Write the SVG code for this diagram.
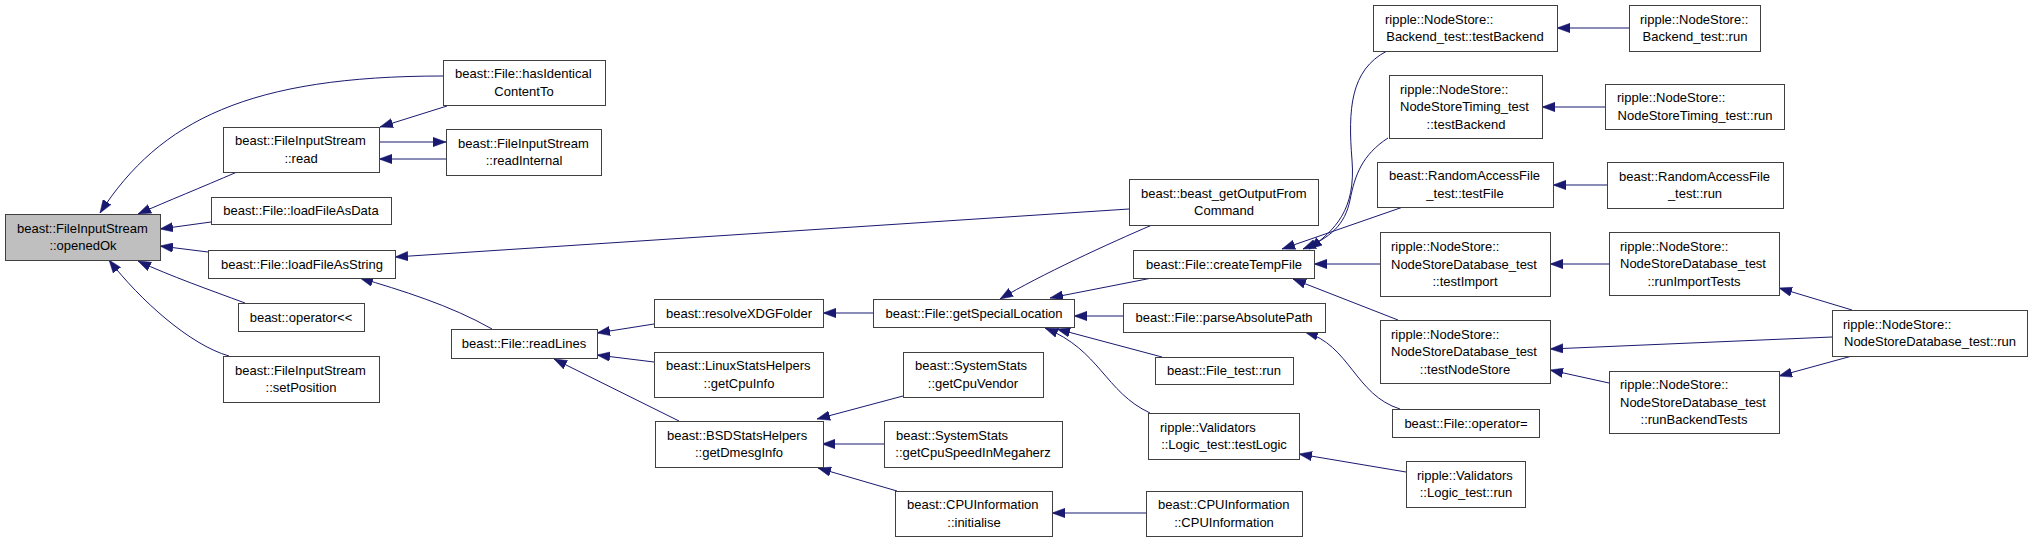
<svg xmlns="http://www.w3.org/2000/svg" width="2032" height="541" viewBox="0 0 2032 541">
<style>
.n rect{fill:#ffffff;stroke:#404040;stroke-width:1}
.n.g rect{fill:#bfbfbf}
.n text{font-family:"Liberation Sans",Arial,Helvetica,sans-serif;font-size:13px;fill:#000000}
.c{text-anchor:middle}
.l{text-anchor:start}
#edges path{fill:none;stroke:#191970;stroke-width:1;marker-end:url(#ah)}
</style>
<defs>
<marker id="ah" markerUnits="userSpaceOnUse" markerWidth="13" markerHeight="10" viewBox="0 0 13 9.4" refX="13" refY="4.7" orient="auto">
<path d="M0,0 L13,4.7 L0,9.4 Z" fill="#191970" stroke="#191970" stroke-width="0.5"/>
</marker>
</defs>
<rect x="0" y="0" width="2032" height="541" fill="#ffffff"/>
<g id="edges">
<path d="M443,76 C250,76 160,120 100,213"/>
<path d="M447,106 L380,127"/>
<path d="M379,142 L446,142"/>
<path d="M446,159 L379,159"/>
<path d="M237,172 C200,188 170,200 138,214"/>
<path d="M211,222 L160,229"/>
<path d="M208,252 L160,246"/>
<path d="M245,303 C210,290 170,276 138,261"/>
<path d="M229,356 C190,345 140,300 109,260"/>
<path d="M1129,209 L395,257"/>
<path d="M492,329 C450,305 400,290 360,278"/>
<path d="M654,324 L597,333"/>
<path d="M654,362 L597,355"/>
<path d="M679,421 L554,359"/>
<path d="M873,313 L823,313"/>
<path d="M903,396 L817,419"/>
<path d="M884,444 L822,444"/>
<path d="M897,491 L818,468"/>
<path d="M1152,225 C1110,243 1040,275 1000,299"/>
<path d="M1152,278 L1050,298"/>
<path d="M1123,316 L1074,316"/>
<path d="M1162,357 L1057,329"/>
<path d="M1150,413 C1105,392 1100,350 1045,328"/>
<path d="M1146,513 L1052,513"/>
<path d="M1406,472 L1299,454"/>
<path d="M1400,409 C1355,395 1350,345 1305,332"/>
<path d="M1387,51 C1350,70 1348,110 1352,160 C1356,210 1335,230 1309,249"/>
<path d="M1388,138 C1362,155 1355,175 1350,200 C1345,225 1330,238 1303,249"/>
<path d="M1403,207 L1282,249"/>
<path d="M1380,264 L1314,264"/>
<path d="M1398,320 L1293,279"/>
<path d="M1629,28 L1557,28"/>
<path d="M1605,107 L1542,107"/>
<path d="M1607,185 L1553,185"/>
<path d="M1609,264 L1550,264"/>
<path d="M1852,310 L1779,288"/>
<path d="M1832,337 L1550,349"/>
<path d="M1852,356 L1779,376"/>
<path d="M1609,383 L1550,370"/>
</g>
<g id="n0" class="n g"><rect x="5.5" y="214.5" width="155" height="46"/><text class="l" x="17" y="232.75">beast::FileInputStream</text><text class="c" x="83" y="250.25">::openedOk</text></g>
<g id="n1" class="n"><rect x="223.5" y="127.5" width="156" height="45"/><text class="l" x="235" y="145.25">beast::FileInputStream</text><text class="c" x="301" y="162.75">::read</text></g>
<g id="n2" class="n"><rect x="211.5" y="197.5" width="180" height="27"/><text class="c" x="301" y="215">beast::File::loadFileAsData</text></g>
<g id="n3" class="n"><rect x="208.5" y="250.5" width="187" height="28"/><text class="c" x="302" y="268.5">beast::File::loadFileAsString</text></g>
<g id="n4" class="n"><rect x="238.5" y="303.5" width="126" height="28"/><text class="c" x="301" y="321.5">beast::operator&lt;&lt;</text></g>
<g id="n5" class="n"><rect x="223.5" y="356.5" width="156" height="46"/><text class="l" x="235" y="374.75">beast::FileInputStream</text><text class="c" x="301" y="392.25">::setPosition</text></g>
<g id="n6" class="n"><rect x="443.5" y="60.5" width="162" height="45"/><text class="l" x="455" y="78.25">beast::File::hasIdentical</text><text class="c" x="524" y="95.75">ContentTo</text></g>
<g id="n7" class="n"><rect x="446.5" y="129.5" width="155" height="46"/><text class="l" x="458" y="147.75">beast::FileInputStream</text><text class="c" x="524" y="165.25">::readInternal</text></g>
<g id="n8" class="n"><rect x="451.5" y="329.5" width="146" height="29"/><text class="c" x="524" y="348">beast::File::readLines</text></g>
<g id="n9" class="n"><rect x="654.5" y="299.5" width="169" height="28"/><text class="c" x="739" y="317.5">beast::resolveXDGFolder</text></g>
<g id="n10" class="n"><rect x="654.5" y="352.5" width="169" height="45"/><text class="l" x="666" y="370.25">beast::LinuxStatsHelpers</text><text class="c" x="739" y="387.75">::getCpuInfo</text></g>
<g id="n11" class="n"><rect x="655.5" y="421.5" width="168" height="46"/><text class="l" x="667" y="439.75">beast::BSDStatsHelpers</text><text class="c" x="739" y="457.25">::getDmesgInfo</text></g>
<g id="n12" class="n"><rect x="873.5" y="299.5" width="201" height="28"/><text class="c" x="974" y="317.5">beast::File::getSpecialLocation</text></g>
<g id="n13" class="n"><rect x="903.5" y="352.5" width="140" height="45"/><text class="l" x="915" y="370.25">beast::SystemStats</text><text class="c" x="973" y="387.75">::getCpuVendor</text></g>
<g id="n14" class="n"><rect x="884.5" y="421.5" width="178" height="46"/><text class="l" x="896" y="439.75">beast::SystemStats</text><text class="c" x="973" y="457.25">::getCpuSpeedInMegaherz</text></g>
<g id="n15" class="n"><rect x="895.5" y="491.5" width="157" height="45"/><text class="l" x="907" y="509.25">beast::CPUInformation</text><text class="c" x="974" y="526.75">::initialise</text></g>
<g id="n16" class="n"><rect x="1129.5" y="179.5" width="189" height="46"/><text class="l" x="1141" y="197.75">beast::beast_getOutputFrom</text><text class="c" x="1224" y="215.25">Command</text></g>
<g id="n17" class="n"><rect x="1133.5" y="250.5" width="181" height="28"/><text class="c" x="1224" y="268.5">beast::File::createTempFile</text></g>
<g id="n18" class="n"><rect x="1123.5" y="303.5" width="202" height="29"/><text class="c" x="1224" y="322">beast::File::parseAbsolutePath</text></g>
<g id="n19" class="n"><rect x="1155.5" y="357.5" width="138" height="27"/><text class="c" x="1224" y="375">beast::File_test::run</text></g>
<g id="n20" class="n"><rect x="1148.5" y="413.5" width="151" height="46"/><text class="l" x="1160" y="431.75">ripple::Validators</text><text class="c" x="1224" y="449.25">::Logic_test::testLogic</text></g>
<g id="n21" class="n"><rect x="1146.5" y="491.5" width="156" height="45"/><text class="l" x="1158" y="509.25">beast::CPUInformation</text><text class="c" x="1224" y="526.75">::CPUInformation</text></g>
<g id="n22" class="n"><rect x="1373.5" y="5.5" width="184" height="46"/><text class="l" x="1385" y="23.75">ripple::NodeStore::</text><text class="c" x="1465" y="41.25">Backend_test::testBackend</text></g>
<g id="n23" class="n"><rect x="1389.5" y="75.5" width="153" height="63"/><text class="l" x="1400" y="93.5">ripple::NodeStore::</text><text class="l" x="1400" y="111">NodeStoreTiming_test</text><text class="c" x="1466" y="128.5">::testBackend</text></g>
<g id="n24" class="n"><rect x="1377.5" y="162.5" width="176" height="45"/><text class="l" x="1389" y="180.25">beast::RandomAccessFile</text><text class="c" x="1465" y="197.75">_test::testFile</text></g>
<g id="n25" class="n"><rect x="1380.5" y="232.5" width="170" height="64"/><text class="l" x="1391" y="251">ripple::NodeStore::</text><text class="l" x="1391" y="268.5">NodeStoreDatabase_test</text><text class="c" x="1465" y="286">::testImport</text></g>
<g id="n26" class="n"><rect x="1380.5" y="320.5" width="170" height="63"/><text class="l" x="1391" y="338.5">ripple::NodeStore::</text><text class="l" x="1391" y="356">NodeStoreDatabase_test</text><text class="c" x="1465" y="373.5">::testNodeStore</text></g>
<g id="n27" class="n"><rect x="1392.5" y="409.5" width="147" height="28"/><text class="c" x="1466" y="427.5">beast::File::operator=</text></g>
<g id="n28" class="n"><rect x="1406.5" y="461.5" width="119" height="46"/><text class="l" x="1417" y="479.75">ripple::Validators</text><text class="c" x="1466" y="497.25">::Logic_test::run</text></g>
<g id="n29" class="n"><rect x="1629.5" y="5.5" width="131" height="46"/><text class="l" x="1640" y="23.75">ripple::NodeStore::</text><text class="c" x="1695" y="41.25">Backend_test::run</text></g>
<g id="n30" class="n"><rect x="1605.5" y="84.5" width="179" height="45"/><text class="l" x="1617" y="102.25">ripple::NodeStore::</text><text class="c" x="1695" y="119.75">NodeStoreTiming_test::run</text></g>
<g id="n31" class="n"><rect x="1607.5" y="162.5" width="176" height="46"/><text class="l" x="1619" y="180.75">beast::RandomAccessFile</text><text class="c" x="1695" y="198.25">_test::run</text></g>
<g id="n32" class="n"><rect x="1609.5" y="232.5" width="170" height="63"/><text class="l" x="1620" y="250.5">ripple::NodeStore::</text><text class="l" x="1620" y="268">NodeStoreDatabase_test</text><text class="c" x="1694" y="285.5">::runImportTests</text></g>
<g id="n33" class="n"><rect x="1609.5" y="371.5" width="170" height="62"/><text class="l" x="1620" y="389">ripple::NodeStore::</text><text class="l" x="1620" y="406.5">NodeStoreDatabase_test</text><text class="c" x="1694" y="424">::runBackendTests</text></g>
<g id="n34" class="n"><rect x="1832.5" y="310.5" width="195" height="46"/><text class="l" x="1843" y="328.75">ripple::NodeStore::</text><text class="c" x="1930" y="346.25">NodeStoreDatabase_test::run</text></g>
</svg>
